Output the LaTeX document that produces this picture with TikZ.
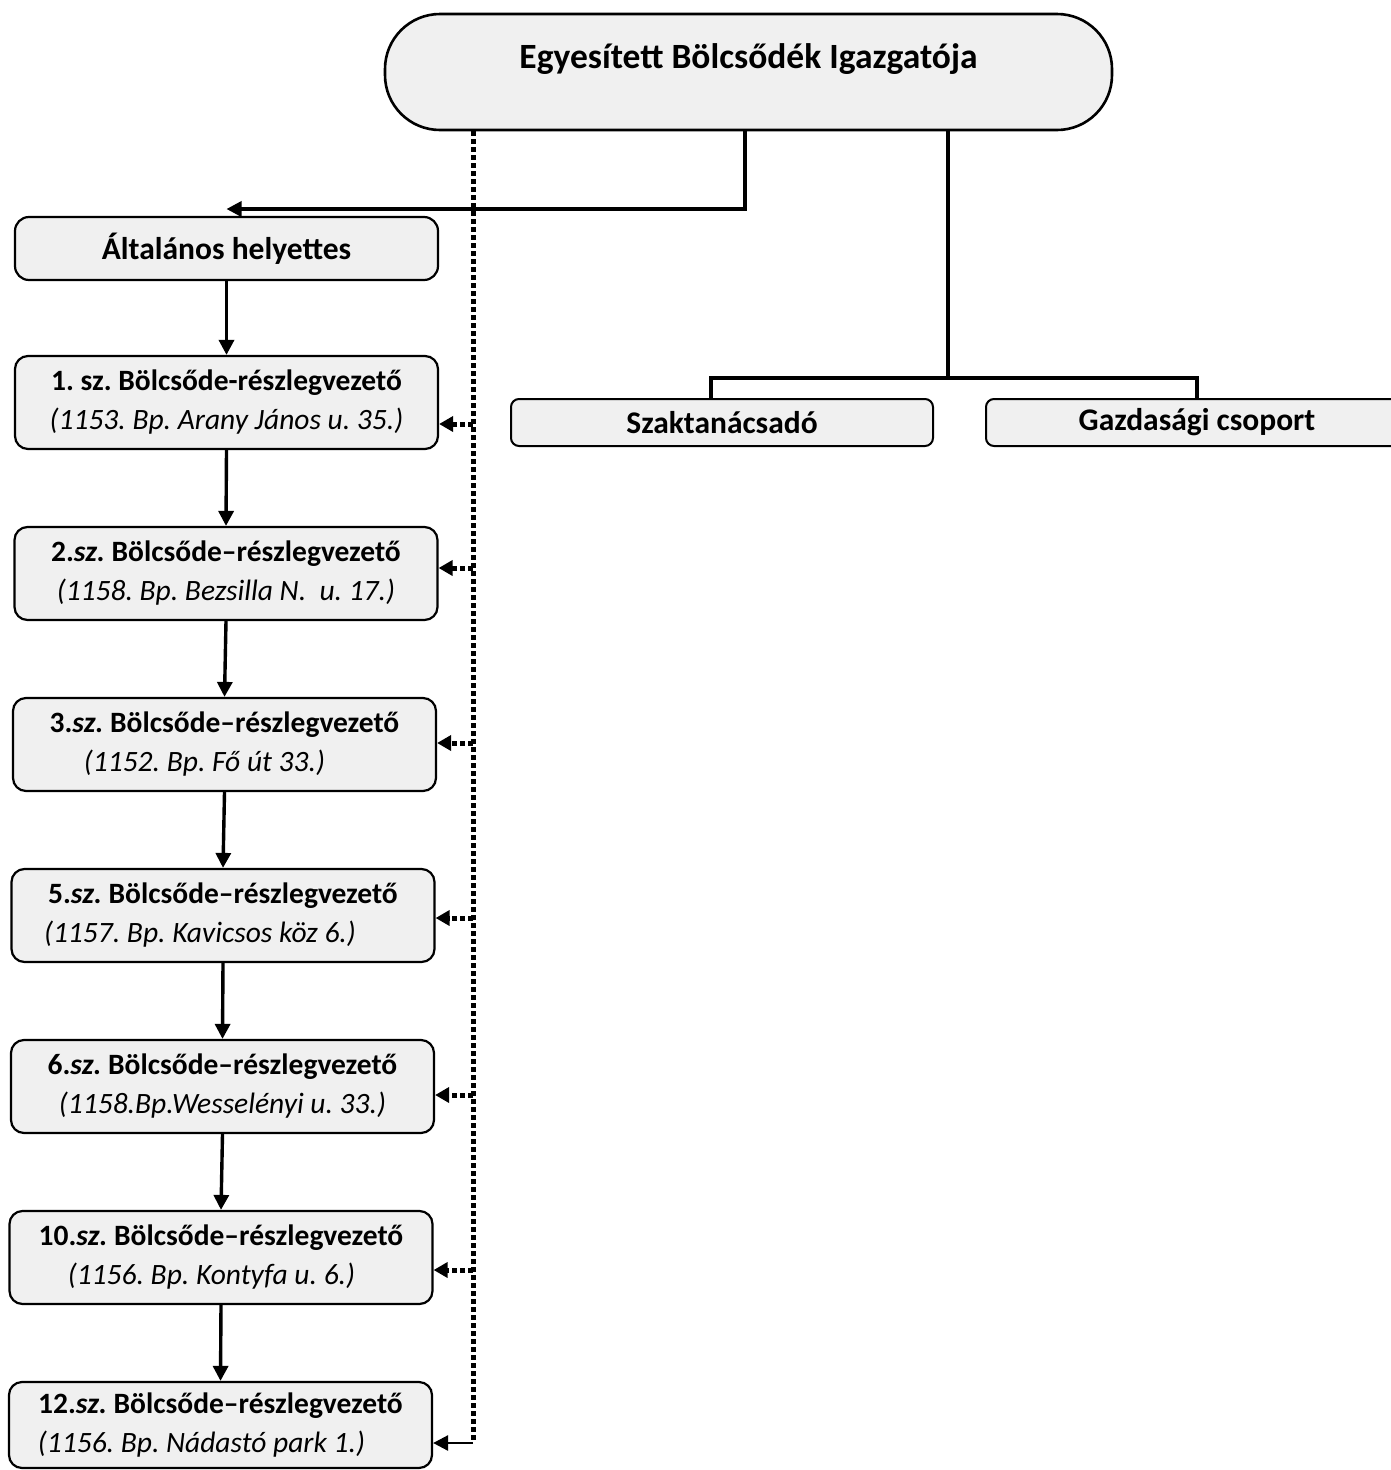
\documentclass[tikz,border=0pt]{standalone}
\usepackage{fontspec}
\setmainfont{Carlito}
\usetikzlibrary{arrows.meta}
\begin{document}
\frenchspacing
\begin{tikzpicture}[x=1pt,y=-1pt,
  boxfill/.style={fill=black!6},
  unitbox/.style={draw=black, line width=2.2pt, boxfill, rounded corners=13pt,
    minimum width=423pt, minimum height=93pt, inner sep=0pt, align=center,
    font=\fontsize{29.5}{39}\selectfont},
  flatbox/.style={draw=black, line width=2pt, boxfill, rounded corners=8pt,
    minimum width=422pt, minimum height=47pt, inner sep=0pt,
    font=\fontsize{31.5}{34}\selectfont\bfseries},
  solidline/.style={draw=black, line width=3.4pt},
  solidarrow/.style={solidline, -{Triangle[length=15pt,width=15pt]}},
  dotline/.style={draw=black, line width=5pt, dash pattern=on 5pt off 3pt},
  dotarrow/.style={dotline, -{Triangle[length=14pt,width=15pt]}}
]
\useasboundingbox (0,0) rectangle (1390,1470);

% director
\node[draw=black, line width=2.6pt, boxfill, rounded corners=55pt,
  minimum width=727pt, inner xsep=0pt, inner ysep=18pt,
  text height=36pt, text depth=44pt,
  font=\fontsize{35.5}{40}\selectfont\bfseries]
  (dir) at (748.5,72) {Egyesített Bölcsődék Igazgatója};

% deputy
\node[draw=black, line width=2.2pt, boxfill, rounded corners=14pt,
  minimum width=423pt, minimum height=63pt, inner sep=0pt,
  font=\fontsize{31.5}{34}\selectfont\bfseries]
  (alt) at (226.5,248.5) {Általános helyettes};

% units
\node[unitbox] (b1) at (226.5,402.5)
  {\textbf{1. sz. Bölcsőde-részlegvezető}\\\textit{(1153. Bp. Arany János u. 35.)}};
\node[unitbox] (b2) at (226,573.5)
  {\textbf{2.\textit{sz.} Bölcsőde–részlegvezető}\\\textit{(1158. Bp. Bezsilla N.\ \ u. 17.)}};
\node[unitbox] (b3) at (224.5,744.5)
  {\textbf{3.\textit{sz.} Bölcsőde–részlegvezető}\\\textit{(1152. Bp. Fő út 33.)}\hspace*{40pt}};
\node[unitbox] (b5) at (223,915.5)
  {\textbf{5.\textit{sz.} Bölcsőde–részlegvezető}\\\textit{(1157. Bp. Kavicsos köz 6.)}\hspace*{46pt}};
\node[unitbox] (b6) at (222.5,1086.5)
  {\textbf{6.\textit{sz.} Bölcsőde–részlegvezető}\\\textit{(1158.Bp.Wesselényi u. 33.)}};
\node[unitbox] (b10) at (221,1257.5)
  {\textbf{10.\textit{sz.} Bölcsőde–részlegvezető}\\\textit{(1156. Bp. Kontyfa u. 6.)}\hspace*{19pt}};
\node[unitbox, minimum height=86pt] (b12) at (220.5,1425)
  {\textbf{12.\textit{sz.} Bölcsőde–részlegvezető}\\\textit{(1156. Bp. Nádastó park 1.)}\hspace*{38pt}};

% staff boxes
\node[flatbox] (szak) at (722,422.5) {Szaktanácsadó};
\node[flatbox] (gazd) at (1197,422.5) {Gazdasági csoport};

% solid connectors from director
\coordinate (j1) at (745,209);
\coordinate (alttip) at (alt.north |- j1);
\draw[solidarrow] (dir.south -| j1) -- (j1) -- (alttip);

\coordinate (j2) at (948,378);
\coordinate (s1) at (711,399);
\draw[solidline] (dir.south -| j2) -- (j2);
\draw[solidline] (s1) |- (j2) -| (gazd.north);

% chain of units
\draw[solidarrow] (alt.south) -- (b1.north);
\draw[solidarrow] (b1.south) -- (b2.north);
\draw[solidarrow] (b2.south) -- (b3.north);
\draw[solidarrow] (b3.south) -- (b5.north);
\draw[solidarrow] (b5.south) -- (b6.north);
\draw[solidarrow] (b6.south) -- (b10.north);
\draw[solidarrow] (b10.south) -- (b12.north);

% dotted supervision line
\coordinate (dx) at (473,0);
\coordinate (dbot) at (473,1443);
\draw[dotline] (dx |- dir.south) -- (dbot);
\draw[solidarrow, line width=2.6pt] (dbot) -- (dbot -| b12.east);

\coordinate (d1) at (473,424);
\coordinate (d2) at (473,568);
\coordinate (d3) at (473,743);
\coordinate (d5) at (473,918);
\coordinate (d6) at (473,1095);
\coordinate (d10) at (473,1270);
\draw[dotarrow] (d1) -- (d1 -| b1.east);
\draw[dotarrow] (d2) -- (d2 -| b2.east);
\draw[dotarrow] (d3) -- (d3 -| b3.east);
\draw[dotarrow] (d5) -- (d5 -| b5.east);
\draw[dotarrow] (d6) -- (d6 -| b6.east);
\draw[dotarrow] (d10) -- (d10 -| b10.east);
\end{tikzpicture}
\end{document}
